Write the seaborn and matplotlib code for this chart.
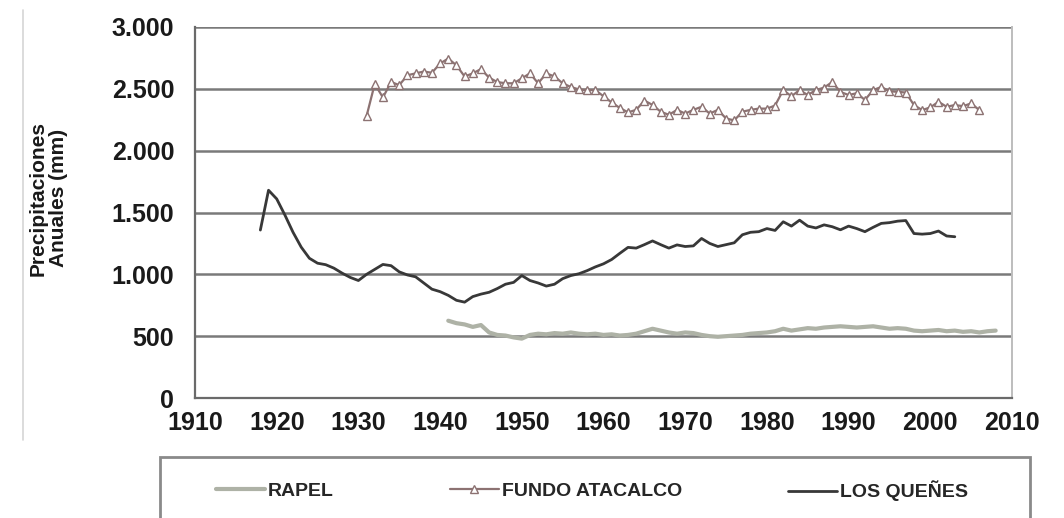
import numpy as np
import pandas as pd
import seaborn as sns
import matplotlib.pyplot as plt
from matplotlib.lines import Line2D
from matplotlib.patches import Rectangle
from matplotlib.ticker import FuncFormatter, MultipleLocator

sns.set_style("white")
plt.rcParams['font.family'] = ['Liberation Sans', 'DejaVu Sans']

# annual precipitation (mm)
queñes_years = list(range(1918, 2004))
queñes = [1358, 1680, 1610, 1480, 1340, 1220, 1130, 1090, 1078, 1050,
          1010, 975, 950, 1000, 1040, 1080, 1070, 1020, 995, 980,
          930, 880, 860, 830, 790, 775, 820, 840, 855, 885,
          920, 935, 990, 950, 930, 905, 920, 965, 990, 1005,
          1030, 1060, 1085, 1120, 1170, 1218, 1212, 1240, 1270, 1240,
          1212, 1238, 1225, 1230, 1290, 1250, 1225, 1240, 1255, 1320,
          1340, 1345, 1370, 1355, 1425, 1390, 1438, 1390, 1375, 1400,
          1385, 1360, 1390, 1370, 1345, 1380, 1412, 1418, 1430, 1435,
          1330, 1325, 1330, 1350, 1310, 1304]

fundo_years = list(range(1931, 2007))
fundo = [2280, 2540, 2430, 2555, 2530, 2610, 2625, 2640, 2630, 2705,
         2745, 2690, 2600, 2625, 2660, 2590, 2555, 2545, 2545, 2585,
         2625, 2545, 2625, 2600, 2545, 2515, 2495, 2490, 2490, 2440,
         2390, 2345, 2310, 2330, 2405, 2370, 2315, 2290, 2330, 2300,
         2330, 2355, 2300, 2330, 2260, 2245, 2315, 2330, 2340, 2340,
         2365, 2490, 2440, 2490, 2450, 2490, 2510, 2555, 2475, 2450,
         2465, 2410, 2490, 2515, 2480, 2476, 2470, 2369, 2328, 2350,
         2395, 2355, 2369, 2360, 2382, 2328]

rapel_years = list(range(1941, 2009))
rapel = [625, 605, 595, 575, 590, 530, 510, 505, 490, 480,
         510, 520, 515, 525, 520, 530, 520, 515, 520, 510,
         515, 505, 510, 520, 540, 560, 545, 530, 520, 530,
         525, 510, 500, 495, 500, 505, 510, 520, 525, 530,
         540, 560, 545, 555, 565, 560, 570, 575, 580, 575,
         570, 575, 580, 570, 560, 565, 560, 545, 540, 545,
         550, 540, 545, 535, 540, 530, 540, 545]

c_rapel = "#aeb2a6"
c_fundo = "#8c7272"
c_queñes = "#383838"

W, H = 1064, 518
fig = plt.figure(figsize=(W / 100, H / 100), dpi=100)
ax = fig.add_axes([195 / W, 1 - 398 / H, (1012 - 195) / W, (398 - 27) / H])

sns.lineplot(x=rapel_years, y=rapel, ax=ax, color=c_rapel, linewidth=3.0)
sns.lineplot(x=fundo_years, y=fundo, ax=ax, color=c_fundo, linewidth=1.6,
             marker="^", markersize=6, markerfacecolor="white",
             markeredgecolor=c_fundo, markeredgewidth=1.0)
sns.lineplot(x=queñes_years, y=queñes, ax=ax, color=c_queñes, linewidth=2.0)

ax.set_xlim(1910, 2010)
ax.set_ylim(0, 3000)
ax.xaxis.set_major_locator(MultipleLocator(10))
ax.yaxis.set_major_locator(MultipleLocator(500))
ax.yaxis.set_major_formatter(FuncFormatter(lambda v, p: f"{int(v):,}".replace(",", ".")))
ax.grid(axis="y", color="#7a7a7a", linewidth=1.8)
ax.set_axisbelow(True)
ax.set_xlabel("")
ax.set_ylabel("")

for s in ["left", "bottom"]:
    ax.spines[s].set_color("#6a6a6a")
    ax.spines[s].set_linewidth(1.6)
for s in ["right", "top"]:
    ax.spines[s].set_color("#bdbdbd")
    ax.spines[s].set_linewidth(1.4)
ax.spines["top"].set_visible(False)

ax.tick_params(axis="y", direction="out", length=8, width=1.4, color="#6a6a6a",
               pad=7, labelsize=18)
ax.tick_params(axis="x", direction="out", length=5, width=1.4, color="#6a6a6a",
               pad=4, labelsize=18)
for lab in ax.get_xticklabels() + ax.get_yticklabels():
    lab.set_fontweight("bold")
    lab.set_color("#1a1a1a")

fig.text(48 / W, 1 - 198 / H, "Precipitaciones\nAnuales (mm)", rotation=90,
         ha="center", va="center", multialignment="center",
         fontsize=15, fontweight="bold", color="#1a1a1a", linespacing=1.1)

# faint chart-area border on the left
fig.add_artist(Line2D([23 / W, 23 / W], [1 - 440 / H, 1 - 10 / H],
                      transform=fig.transFigure, color="#d6d6d6", linewidth=1.2))

# legend frame
fig.add_artist(Rectangle((160 / W, -0.05), (1030 - 160) / W, 0.05 + 1 - 457 / H,
                         transform=fig.transFigure, fill=False,
                         edgecolor="#8a8a8a", linewidth=2.0))

entries = [
    ("RAPEL", Line2D([], [], color=c_rapel, linewidth=3.0), 216),
    ("FUNDO ATACALCO", Line2D([], [], color=c_fundo, linewidth=1.6, marker="^",
                              markersize=6, markerfacecolor="white",
                              markeredgecolor=c_fundo), 450),
    ("LOS QUEÑES", Line2D([], [], color=c_queñes, linewidth=2.0), 788),
]
for label, handle, x0 in entries:
    fig.legend(handles=[handle], labels=[label], loc="center left",
               bbox_to_anchor=(x0 / W, 1 - 491 / H), frameon=False,
               handlelength=2.5, handletextpad=0.15, borderpad=0, borderaxespad=0,
               prop={"size": 14, "weight": "bold"})

fig.savefig("out.png", dpi=100, facecolor="white")
